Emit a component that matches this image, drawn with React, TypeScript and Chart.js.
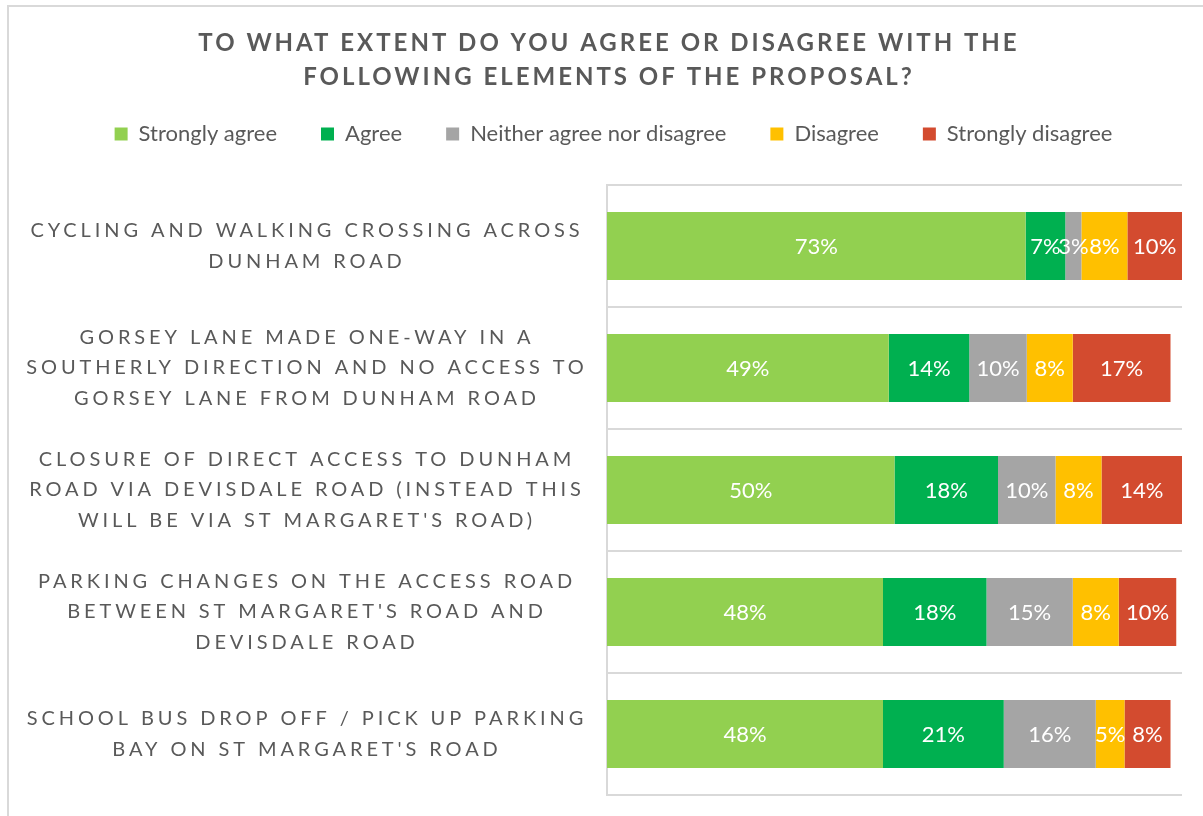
import React, { useEffect, useRef } from "react";
import { Chart, registerables } from "chart.js";

Chart.register(...registerables);

const W = 1203;
const H = 816;

const TITLE_LINES = [
  "TO WHAT EXTENT DO YOU AGREE OR DISAGREE WITH THE",
  "FOLLOWING ELEMENTS OF THE PROPOSAL?",
];

const CATEGORIES: string[][] = [
  ["CYCLING AND WALKING CROSSING ACROSS", "DUNHAM ROAD"],
  ["GORSEY LANE MADE ONE-WAY IN A", "SOUTHERLY DIRECTION AND NO ACCESS TO", "GORSEY LANE FROM DUNHAM ROAD"],
  ["CLOSURE OF DIRECT ACCESS TO DUNHAM", "ROAD VIA DEVISDALE ROAD (INSTEAD THIS", "WILL BE VIA ST MARGARET'S ROAD)"],
  ["PARKING CHANGES ON THE ACCESS ROAD", "BETWEEN ST MARGARET'S ROAD AND", "DEVISDALE ROAD"],
  ["SCHOOL BUS DROP OFF / PICK UP PARKING", "BAY ON ST MARGARET'S ROAD"],
];

const SERIES_NAMES = ["Strongly agree", "Agree", "Neither agree nor disagree", "Disagree", "Strongly disagree"];

const STRONGLY_AGREE = [72.8, 49, 50, 48, 48];
const AGREE = [6.9, 14, 18, 18, 21];
const NEITHER = [2.8, 10, 10, 15, 16];
const DISAGREE = [8, 8, 8, 8, 5];
const STRONGLY_DISAGREE = [9.5, 17, 14, 10, 8];

const SERIES_VALUES = [STRONGLY_AGREE, AGREE, NEITHER, DISAGREE, STRONGLY_DISAGREE];
const SERIES_COLORS = ["#92D050", "#00B050", "#A5A5A5", "#FFC000", "#D34B2F"];

const TEXT_COLOR = "#595959";
const GRID_COLOR = "#D9D9D9";
const FONT = "Lato, 'Open Sans', sans-serif";

const PAD_TOP = 79;
const PAD_LEFT = 24;
const PLOT_TOP = 185;
const PLOT_LEFT = 607;

const decorPlugin = {
  id: "decor",
  beforeDraw(chart: any) {
    const ctx = chart.ctx as CanvasRenderingContext2D;
    ctx.save();
    ctx.fillStyle = "#FFFFFF";
    ctx.fillRect(0, 0, W, H);
    ctx.strokeStyle = GRID_COLOR;
    ctx.lineWidth = 2;
    ctx.strokeRect(8, 6, W + 20, H + 20);
    ctx.restore();
  },
  afterDatasetsDraw(chart: any) {
    const ctx = chart.ctx as CanvasRenderingContext2D;
    ctx.save();
    ctx.fillStyle = "#FFFFFF";
    ctx.font = `22px ${FONT}`;
    ctx.textAlign = "center";
    ctx.textBaseline = "middle";
    chart.data.datasets.forEach((ds: any, di: number) => {
      const meta = chart.getDatasetMeta(di);
      meta.data.forEach((el: any, i: number) => {
        const v = ds.data[i];
        const p = el.getProps(["x", "base", "y"], true);
        ctx.fillText(`${Math.round(v)}%`, (p.x + p.base) / 2, p.y + 1);
      });
    });
    ctx.restore();
  },
  afterDraw(chart: any) {
    const ctx = chart.ctx as CanvasRenderingContext2D;
    ctx.save();
    ctx.fillStyle = TEXT_COLOR;
    ctx.textAlign = "center";
    ctx.textBaseline = "middle";
    // title
    ctx.font = `bold 24px ${FONT}`;
    (ctx as any).letterSpacing = "3px";
    TITLE_LINES.forEach((line, i) => {
      ctx.fillText(line, 607.5 + 1.5, 43 + i * 34);
    });
    // category labels
    ctx.font = `20px ${FONT}`;
    (ctx as any).letterSpacing = "3.9px";
    const yScale = chart.scales.y;
    CATEGORIES.forEach((lines, i) => {
      const cy = yScale.getPixelForValue(i);
      lines.forEach((ln, j) => {
        ctx.fillText(ln, 305 + 2, cy + (j - (lines.length - 1) / 2) * 30.5);
      });
    });
    ctx.restore();
  },
};

export default function App() {
  const ref = useRef<HTMLCanvasElement>(null);

  useEffect(() => {
    if (!ref.current) return;
    const chart = new Chart(ref.current, {
      type: "bar",
      data: {
        labels: CATEGORIES,
        datasets: SERIES_NAMES.map((name, i) => ({
          label: name,
          data: SERIES_VALUES[i],
          backgroundColor: SERIES_COLORS[i],
          borderWidth: 0,
          barPercentage: 0.556,
          categoryPercentage: 1,
        })),
      },
      options: {
        indexAxis: "y",
        responsive: false,
        animation: false,
        devicePixelRatio: 1,
        layout: { padding: { top: PAD_TOP, left: PAD_LEFT, right: 0, bottom: 21 } },
        plugins: {
          title: { display: false },
          tooltip: { enabled: false },
          legend: {
            display: true,
            position: "top",
            align: "center",
            labels: {
              color: TEXT_COLOR,
              font: { family: FONT, size: 22 },
              boxWidth: 13,
              boxHeight: 13,
              padding: 44,
            },
          },
        },
        scales: {
          x: {
            type: "linear",
            stacked: true,
            min: 0,
            max: 100,
            position: "top",
            display: true,
            grid: { display: false },
            ticks: { display: false },
            border: { display: false },
            afterFit: (s: any) => {
              const lg = s.chart.legend;
              s.height = Math.max(0, PLOT_TOP - PAD_TOP - (lg ? lg.height : 0));
            },
          },
          y: {
            type: "category",
            stacked: true,
            position: "left",
            grid: { display: true, offset: true, color: GRID_COLOR, lineWidth: 2, drawTicks: false },
            border: { display: true, color: GRID_COLOR, width: 2 },
            ticks: { display: false },
            afterFit: (s: any) => {
              s.width = PLOT_LEFT - PAD_LEFT;
            },
          },
          yRight: {
            type: "linear",
            position: "right",
            display: true,
            grid: { display: false },
            ticks: { display: false },
            border: { display: false },
            afterFit: (s: any) => {
              s.width = 21;
            },
          },
        },
      } as any,
      plugins: [decorPlugin],
    });
    return () => chart.destroy();
  }, []);

  return (
    <div style={{ position: "absolute", left: 0, top: 0, width: W, height: H }}>
      <canvas ref={ref} width={W} height={H} style={{ width: W, height: H, display: "block" }} />
    </div>
  );
}
